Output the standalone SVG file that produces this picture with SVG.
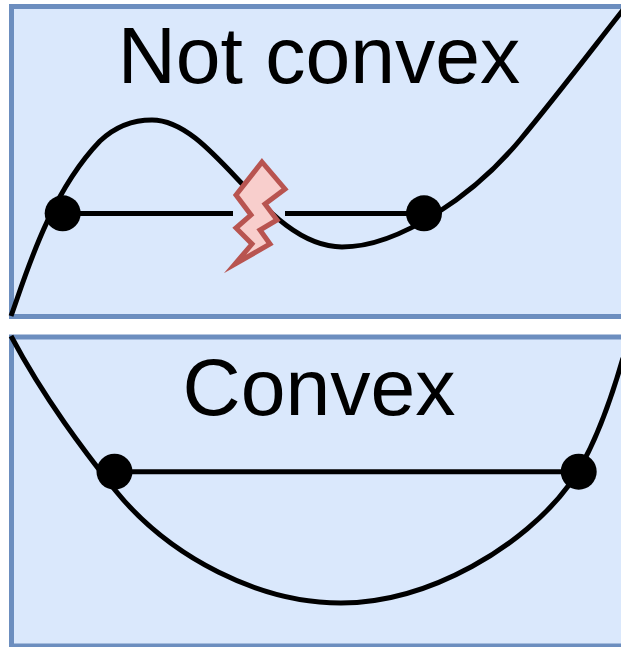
<svg xmlns="http://www.w3.org/2000/svg" width="621" height="647" viewBox="0 0 621 647">
<style>
.panel{fill:#dae8fc;stroke:#6c8ebf;stroke-width:5}
.curve{fill:none;stroke:#000;stroke-width:5}
.dot{fill:#000}
.label{font-family:"Liberation Sans",Arial,sans-serif;font-size:80.500px;fill:#000;text-anchor:middle}
</style>
<rect width="621" height="647" fill="#fff"/>
<g id="panel-top"><rect class="panel" x="11.500" y="6.500" width="620" height="310"/></g>
<g id="panel-bottom"><rect class="panel" x="11.500" y="337" width="620" height="309"/></g>
<g id="connectors">
<path class="curve" d="M11 316C24 281 48 195 100 141C117 125 135 120 152 120C215 120 265 247 342 247C400 247 475 194 520 140C555 98 590 52 623 10"/>
<path class="curve" d="M63 213.500H233M285 213.500H424"/>
<path class="curve" d="M11 336C45 400 85 452 115 490C170 558 260 603 341 603C430 603 525 545 569 485C590 456 608 410 623 358"/>
<path class="curve" d="M115 471.700H579"/>
</g>
<g id="bolt"><path d="M262 162L285 189L265 204L277 220L260 230L270 244L235 264L252 244L236 228L251 215L236 195Z" fill="#f8cecc" stroke="#b85450" stroke-width="5" stroke-miterlimit="12"/></g>
<g id="dot1"><circle class="dot" cx="62.700" cy="213.300" r="18"/></g>
<g id="dot2"><circle class="dot" cx="424" cy="213.300" r="18"/></g>
<g id="dot3"><circle class="dot" cx="114.500" cy="471.700" r="18"/></g>
<g id="dot4"><circle class="dot" cx="578.700" cy="471.700" r="18"/></g>
<g id="label-top"><text class="label" x="319" y="83">Not convex</text></g>
<g id="label-bottom"><text class="label" x="319" y="415">Convex</text></g>
</svg>
